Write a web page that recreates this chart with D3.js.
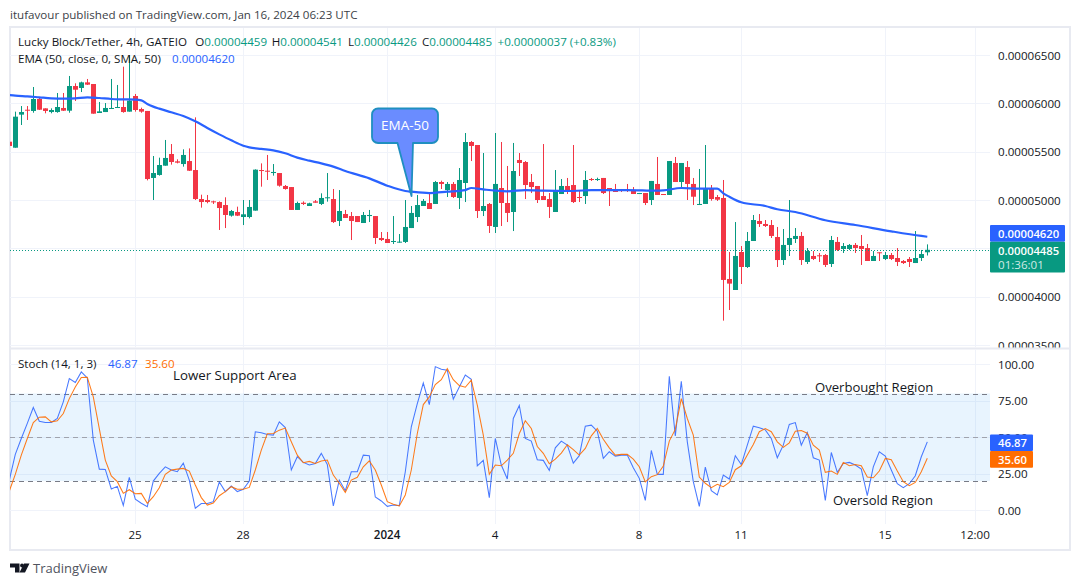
<!DOCTYPE html>
<html><head><meta charset="utf-8">
<script src="https://cdn.jsdelivr.net/npm/d3@7"></script>
<style>html,body{margin:0;padding:0;background:#fff;overflow:hidden}svg{display:block}
text{font-family:"Open Sans",sans-serif}</style></head><body>
<svg id="c" width="1080" height="586"></svg>
<script>
// Values are in units of 0.00000001 USDT. First entry is the bar clipped at the left edge.
const opens=[5603,
5541,5883,5934,5921,6045,5948,5910,5910,5952,5924,
6179,6159,6217,6200,5900,5910,5945,5955,5962,5914,
6076,5941,5921,5228,5259,5355,5476,5400,5372,5403,
5310,5010,5000,4986,4979,4948,4838,4876,4824,4824,
4890,5310,5303,5279,5279,5145,5134,4897,4972,4938,
4986,4959,5021,5010,4783,4855,4834,4834,4762,4834,
4834,4607,4597,4566,4562,4566,4710,4824,4938,4969,
4959,5186,5103,5166,5021,5176,5600,5569,4886,4959,
4721,5124,4969,4876,5414,5393,5186,5145,5041,5010,
4876,5062,5145,5155,5031,5041,5217,5210,5228,5124,
5114,5107,5107,5103,5066,5072,5000,5166,5062,5052,
5383,5186,5341,5166,4952,4959,5114,5031,5021,4183,
4069,4462,4307,4576,4783,4752,4741,4617,4379,4535,
4597,4628,4359,4421,4428,4431,4338,4566,4493,4493,
4535,4524,4503,4369,4459,4390,4431,4400,4369,4390,
4348,4400,4459];
const highs=[5620,
5914,5972,5972,6169,6062,5948,5948,6107,6107,6283,
6207,6224,6252,6200,6014,6003,6252,6190,6379,6500,
6097,5955,5921,5455,5438,5621,5579,5421,5524,5534,
5855,5055,5052,4993,4986,5028,4897,4931,5000,5000,
5317,5379,5466,5372,5279,5155,5134,4983,4986,4972,
5000,5069,5279,5114,5103,4897,4876,4834,4876,4897,
4834,4669,4669,4834,4648,5000,4938,5052,5010,5062,
5197,5200,5186,5186,5331,5693,5610,5569,5486,4969,
5693,5600,5352,5590,5486,5403,5269,5145,5579,5072,
5310,5217,5228,5569,5093,5300,5228,5231,5228,5124,
5166,5114,5166,5134,5072,5072,5197,5445,5062,5403,
5445,5383,5403,5228,5321,5569,5155,5052,5207,4462,
4772,4524,4669,4845,4855,4793,4793,4721,4700,5000,
4710,4669,4503,4472,4452,4441,4628,4617,4555,4545,
4555,4638,4545,4472,4459,4462,4452,4503,4379,4410,
4679,4483,4541];
const lows=[5550,
5541,5776,5828,5903,5931,5897,5897,5903,5921,5903,
6024,6117,6190,5893,5900,5910,5945,5955,5903,5914,
5914,5903,5203,5000,5252,5355,5366,5379,5345,5300,
5000,4921,4966,4959,4690,4710,4828,4834,4741,4810,
4890,5138,5207,5252,5138,5107,4897,4897,4948,4938,
4972,4948,4983,4762,4731,4814,4586,4772,4762,4772,
4545,4576,4555,4545,4559,4555,4710,4772,4938,4907,
4959,5114,5031,5021,4907,4979,5403,4814,4834,4659,
4659,4731,4772,4679,5248,5010,5072,4969,5000,4814,
4876,5062,5062,4969,4979,4959,5197,5197,5062,4938,
5083,5083,5083,5062,5066,4948,4948,5052,5052,5052,
5186,5134,5000,4948,4948,4959,4993,4990,3752,3862,
4069,4131,4297,4576,4721,4721,4607,4307,4328,4421,
4555,4328,4338,4379,4359,4307,4307,4472,4452,4483,
4452,4328,4369,4369,4369,4379,4379,4317,4338,4307,
4348,4369,4426];
const closes=[5559,
5862,5910,5928,6045,5934,5921,5931,5962,5924,6179,
6141,6217,6193,5893,5917,5952,5952,5962,5910,6028,
5931,5914,5217,5279,5362,5435,5393,5386,5466,5303,
5010,4979,4979,4979,4917,4845,4886,4838,4852,4928,
5314,5303,5297,5290,5148,5114,4897,4969,4959,4966,
4972,5021,5028,4772,4886,4814,4783,4772,4845,4845,
4607,4586,4555,4576,4569,4721,4866,4948,4990,4907,
5186,5166,5166,5031,5207,5600,5559,4886,4938,4731,
5166,4969,4866,5300,5383,5155,5134,5000,5000,4928,
5093,5145,5103,4979,5024,5207,5207,5217,5072,5114,
5083,5097,5097,5062,5072,4969,5197,5052,5052,5403,
5186,5383,5166,5034,4959,5121,5010,5003,4173,4135,
4421,4307,4576,4793,4752,4731,4628,4379,4535,4607,
4628,4379,4472,4390,4421,4328,4586,4483,4524,4535,
4503,4493,4369,4421,4452,4431,4390,4359,4348,4359,
4400,4441,4485];
const emaBars=[-1,0,2,4,6,8,10,12,14,16,18,20,21,22,23,24,26,28,30,32,34,36,38,39,41,43,45,47,49,51,53,55,59,62,65,66,69,72,75,76,78,80,82,85,88,93,96,102,107,108,111,114,117,118,119,121,125,127,130,135,140,146,151,152];
const emaValues=[6086,6079,6072,6062,6052,6048,6052,6062,6055,6045,6041,6038,6031,5993,5966,5945,5907,5869,5814,5745,5679,5617,5562,5545,5528,5514,5483,5438,5407,5379,5345,5300,5224,5148,5093,5086,5072,5086,5103,5124,5110,5097,5090,5103,5097,5093,5103,5103,5097,5100,5124,5117,5117,5069,5034,4976,4938,4904,4876,4790,4741,4676,4628,4620];
const stochK=[20.7,
38.3,49.2,59.5,70.4,61.0,60.1,60.1,62.9,74.3,90.2,
87.5,94.8,90.7,48.1,28.2,28.0,14.6,16.4,3.4,22.6,
7.7,4.8,2.5,20.0,25.3,29.8,27.6,26.4,32.3,20.7,
1.4,4.6,4.6,5.9,19.4,12.8,16.6,12.8,14.4,20.0,
53.8,53.1,51.9,51.5,60.6,56.7,27.6,36.7,32.8,31.0,
32.1,39.0,31.4,3.0,20.7,13.4,26.4,26.4,37.8,37.4,
9.1,6.4,2.7,3.6,3.2,26.4,57.2,73.1,87.2,72.4,
98.4,96.6,95.9,76.1,84.5,92.7,89.7,30.5,34.2,8.7,
49.2,31.0,21.4,62.9,71.8,49.2,47.4,34.6,34.2,27.3,
42.8,47.4,44.6,32.3,37.4,57.6,58.3,54.2,35.5,40.1,
37.1,37.8,37.8,29.2,21.9,6.8,41.0,24.6,24.6,91.8,
51.0,88.4,46.9,19.6,2.7,29.6,13.4,10.5,24.1,21.4,
37.4,31.4,44.6,57.6,56.5,55.1,49.2,36.0,44.6,58.8,
60.1,44.6,53.3,36.0,34.4,6.8,39.6,26.0,32.1,32.8,
31.0,28.2,10.0,29.8,40.1,37.1,27.6,18.2,15.5,18.2,
23.7,36.7,46.87];
const stochD=[13.2,
24.6,37.8,49.2,60.1,63.8,64.0,60.6,61.3,66.3,76.5,
84.5,90.9,91.1,77.7,56.0,34.4,23.5,19.6,11.6,14.1,
11.4,11.6,4.8,9.3,15.5,24.6,27.6,28.2,28.7,26.9,
17.3,8.7,3.6,5.0,10.0,12.8,16.2,14.4,14.4,15.7,
27.6,41.2,52.4,52.6,54.9,56.3,46.9,37.8,32.6,33.5,
32.1,33.7,34.4,24.1,18.5,12.3,20.7,22.6,29.8,33.9,
27.6,17.3,5.9,4.1,3.0,10.5,27.6,52.6,72.4,77.7,
86.1,89.5,97.0,89.5,85.4,84.3,89.1,72.0,51.5,24.6,
31.0,30.5,34.4,39.0,52.6,61.3,56.0,43.7,39.0,31.9,
35.1,39.2,44.9,41.5,37.8,42.4,51.0,56.0,48.7,42.8,
37.8,38.3,38.3,35.1,29.8,19.4,23.0,24.4,30.3,47.4,
55.4,76.5,62.9,51.5,22.8,18.5,15.5,17.8,16.2,19.1,
27.8,30.5,37.8,45.1,53.8,56.0,53.8,46.9,43.1,46.2,
54.2,54.7,52.8,44.6,41.2,26.0,26.9,24.6,32.8,30.5,
31.4,30.5,22.8,22.3,26.9,35.5,34.6,26.9,19.6,16.9,
19.1,26.4,35.60];
const priceTicks=[3500,4000,4500,5000,5500,6000,6500];
const priceLabelTicks=[3500,4000,5000,5500,6000,6500];
const stochTicks=[0,25,50,75,100];
const timeTickBars=[20,38,62,80,104,121,145,160];
const timeTickLabels=["25","28","2024","4","8","11","15","12:00"];
const lastPrice=4485, lastEma=4620, lastK=46.87, lastD=35.60;
const ohlc={O:4459,H:4541,L:4426,C:4485};

const GREEN="#089981",RED="#f23645",BLUE="#2962ff",ORANGE="#ff6d00",TXT="#131722",GRID="#f0f3fa",FRAME="#e8eaf1";
const FS=11.6;
const svg=d3.select("#c");
const L=10,R=990,W=1070,T=28,PB=347.5,S0=349.5,SB=524,B=550;
const x=d3.scaleLinear().domain([-1,160]).range([9.3,975.3]);
const y=d3.scaleLinear().domain([3500,6500]).range([345,55]);
const ys=d3.scaleLinear().domain([0,100]).range([510.3,364.3]);
const fmtP=v=>d3.format(".8f")(v/1e8);
const defs=svg.append("defs");
defs.append("clipPath").attr("id","p1").append("rect").attr("x",L).attr("y",T).attr("width",R-L).attr("height",PB-T);
defs.append("clipPath").attr("id","p2").append("rect").attr("x",L).attr("y",S0).attr("width",R-L).attr("height",SB-S0);
defs.append("clipPath").attr("id","a1").append("rect").attr("x",R).attr("y",T).attr("width",W-R).attr("height",PB-T);

// frame
svg.append("rect").attr("x",L).attr("y",T-1).attr("width",W-L).attr("height",B-T+1).attr("fill","#fff").attr("stroke",FRAME).attr("stroke-width",2);
svg.append("line").attr("x1",L).attr("x2",W).attr("y1",348.5).attr("y2",348.5).attr("stroke",FRAME).attr("stroke-width",2);

// grid
const g=svg.append("g");
timeTickBars.forEach(b=>{const X=Math.round(x(b))+.5;
  g.append("line").attr("x1",X).attr("x2",X).attr("y1",T).attr("y2",PB).attr("stroke",GRID);
  g.append("line").attr("x1",X).attr("x2",X).attr("y1",S0).attr("y2",SB).attr("stroke",GRID);});
priceTicks.forEach(v=>{const Y=Math.round(y(v))+.5;
  g.append("line").attr("x1",L).attr("x2",R).attr("y1",Y).attr("y2",Y).attr("stroke",GRID);});
stochTicks.forEach(v=>{const Y=Math.round(ys(v))+.5;
  g.append("line").attr("x1",L).attr("x2",R).attr("y1",Y).attr("y2",Y).attr("stroke",GRID);});

// candles
const cg=svg.append("g").attr("clip-path","url(#p1)");
opens.forEach((o,a)=>{
  const c=closes[a],col=c>=o?GREEN:RED,X=Math.round(x(a-1));
  cg.append("rect").attr("x",X).attr("width",1).attr("y",y(highs[a])).attr("height",y(lows[a])-y(highs[a])).attr("fill",col);
  const top=y(Math.max(o,c)),h=Math.max(1,y(Math.min(o,c))-top);
  cg.append("rect").attr("x",X-2).attr("width",5).attr("y",top).attr("height",h).attr("fill",col);
});
// last price line
const lpY=Math.round(y(lastPrice))+.5;
cg.append("line").attr("x1",L).attr("x2",R).attr("y1",lpY).attr("y2",lpY).attr("stroke",GREEN).attr("stroke-width",1).attr("stroke-dasharray","1 2");
// EMA
cg.append("path").attr("fill","none").attr("stroke",BLUE).attr("stroke-width",2.2)
  .attr("stroke-linejoin","round")
  .attr("d",d3.line().x((d,i)=>x(emaBars[i])).y(d=>y(d)).curve(d3.curveMonotoneX)(emaValues));

// callout
const cb=svg.append("g");
cb.append("path").attr("d","M378 108.5H432a6 6 0 0 1 6 6V137a6 6 0 0 1-6 6H413L411.500 196L397.500 143H378a6 6 0 0 1-6-6V114.500a6 6 0 0 1 6-6Z")
  .attr("fill","#6a8cff").attr("stroke","#1f8fc0").attr("stroke-width",1.8).attr("stroke-linejoin","round");
cb.append("text").attr("x",405).attr("y",130).attr("text-anchor","middle").attr("fill","#fff").attr("font-size",13.5).text("EMA-50");

// stochastic
const sg=svg.append("g").attr("clip-path","url(#p2)");
sg.append("rect").attr("x",L).attr("width",R-L).attr("y",ys(80)).attr("height",ys(20)-ys(80)).attr("fill","#2196f3").attr("fill-opacity",.1);
[[80,"#787b86"],[50,"#a0a3ad"],[20,"#787b86"]].forEach(([v,c])=>{
  sg.append("line").attr("x1",L).attr("x2",R).attr("y1",Math.round(ys(v))+.5).attr("y2",Math.round(ys(v))+.5).attr("stroke",c).attr("stroke-dasharray","5 4");});
const sl=d3.line().x((d,i)=>x(i-1)).y(d=>ys(d));
sg.append("path").attr("fill","none").attr("stroke",BLUE).attr("stroke-opacity",.85).attr("stroke-width",1.05).attr("d",sl(stochK));
sg.append("path").attr("fill","none").attr("stroke",ORANGE).attr("stroke-opacity",.9).attr("stroke-width",1.05).attr("d",sl(stochD));

// axes
const styleAxis=s=>{s.select(".domain").remove();s.selectAll(".tick line").remove();
  s.selectAll("text").attr("fill",TXT).attr("font-size",FS).attr("font-family",'"Open Sans",sans-serif');};
svg.append("g").attr("clip-path","url(#a1)")
  .append("g").attr("transform","translate(988,0.5)")
  .call(d3.axisRight(y).tickValues(priceLabelTicks).tickFormat(fmtP).tickSize(0).tickPadding(10)).call(styleAxis);
svg.append("g").attr("transform","translate(988,0)")
  .call(d3.axisRight(ys).tickValues(stochTicks).tickFormat(d3.format(".2f")).tickSize(0).tickPadding(10)).call(styleAxis);
const ax=svg.append("g").attr("transform","translate(-0.7,528)")
  .call(d3.axisBottom(x).tickValues(timeTickBars).tickFormat((d,i)=>timeTickLabels[i]).tickSize(0).tickPadding(3)).call(styleAxis);
ax.selectAll("text").filter((d,i)=>timeTickLabels[i]==="2024").attr("font-weight",600);

// value boxes
function box(bx,by,bw,bh,col){svg.append("rect").attr("x",bx).attr("y",by).attr("width",bw).attr("height",bh).attr("fill",col).attr("rx",1);}
function lab(tx,ty,s,col,opt={}){return svg.append("text").attr("x",tx).attr("y",ty).attr("fill",col).attr("font-size",opt.size||FS).attr("font-weight",opt.w||400).attr("text-anchor",opt.a||"start").text(s);}
box(990,225,75,16.7,BLUE);
lab(998,238,fmtP(lastEma),"#fff",{w:600,size:11.3});
box(990,241.7,75,30.8,GREEN);
lab(998,254.5,fmtP(lastPrice),"#fff",{w:600,size:11.3});
lab(998,269,"01:36:01","#cfeae5");
box(990,434.500,43,16.5,BLUE);
lab(998,447,d3.format(".2f")(lastK),"#fff",{w:600,size:11.3});
box(990,451,43,16.7,ORANGE);
lab(998,464,d3.format(".2f")(lastD),"#fff",{w:600,size:11.3});

// header + legend
lab(10,19,"itufavour published on TradingView.com, Jan 16, 2024 06:23 UTC","#3c3f48");
const leg=svg.append("text").attr("y",46).attr("font-size",FS).attr("fill",TXT);
leg.append("tspan").attr("x",18).text("Lucky Block/Tether, 4h, GATEIO");
[["O",ohlc.O,195.3],["H",ohlc.H,271.7],["L",ohlc.L,348],["C",ohlc.C,422]].forEach(([k,v,px])=>{
  leg.append("tspan").attr("x",px).text(k);leg.append("tspan").attr("fill",GREEN).text(fmtP(v));});
leg.append("tspan").attr("x",497.5).attr("fill",GREEN).text("+0.00000037 (+0.83%)");
const leg2=svg.append("text").attr("y",63).attr("font-size",FS).attr("fill",TXT);
leg2.append("tspan").attr("x",18).text("EMA (50, close, 0, SMA, 50)");
leg2.append("tspan").attr("x",172).attr("fill",BLUE).text(fmtP(lastEma));
const leg3=svg.append("text").attr("y",368).attr("font-size",FS).attr("fill",TXT);
leg3.append("tspan").attr("x",18).text("Stoch (14, 1, 3)");
leg3.append("tspan").attr("x",108).attr("fill",BLUE).text(d3.format(".2f")(lastK));
leg3.append("tspan").attr("x",145).attr("fill",ORANGE).text(d3.format(".2f")(lastD));

// annotations
lab(173,380,"Lower Support Area",TXT,{size:13.3});
lab(815,392,"Overbought Region",TXT,{size:13.1});
lab(833,505,"Oversold Region",TXT,{size:13.1});

// footer
const logo=svg.append("g").attr("fill","#131722");
logo.append("path").attr("d","M10 563.500H19.500V572.500H15V567.500H10Z");
logo.append("circle").attr("cx",22).attr("cy",565.500).attr("r",1.9);
logo.append("path").attr("d","M24 563.500H29.500L25 572.500H19.500Z");
lab(33,573,"TradingView","#50535e",{size:13});
</script></body></html>
